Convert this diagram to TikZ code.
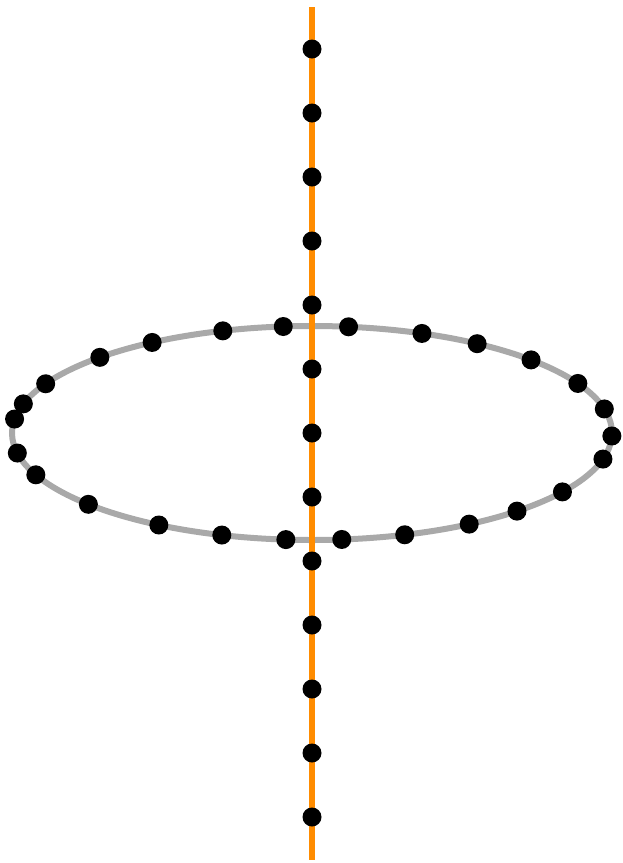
\documentclass[tikz,border=0pt]{standalone}
\usepackage{xcolor}
\usepackage{tikz}
\usetikzlibrary{positioning,calc}
\definecolor{axis}{HTML}{FF8C00}
\definecolor{ring}{HTML}{A9A9A9}
\tikzset{
  dot/.style={circle,fill=black,draw=none,inner sep=0pt,minimum size=9.5pt},
  ringline/.style={draw=ring,line width=3pt},
  axisline/.style={draw=axis,line width=3pt},
}
\begin{document}
\begin{tikzpicture}[x=0.5pt,y=-0.5pt]
  \useasboundingbox (0,0) rectangle (622,863);
  \coordinate (c) at (312,433);
  \coordinate (top) at (312,7);
  \coordinate (bot) at (312,860);
  \draw[ringline] (c) ellipse [x radius=150pt,y radius=53.5pt];
  \draw[axisline] (top)--(bot);
  % points on the axis
  \foreach \k in {0,...,12}
    \node[dot] (a\k) at (312,49+64*\k) {};
  % points on the ring
  \foreach \t [count=\k] in {95.5,83,107.3,68.5,122.2,56.6,135,43.1,152.6,27.6,
      164.2,13,172.5,-1.6,190.8,-14.1,203,-33.4,221.8,-46.9,239.3,-58.4,
      252.5,-72,265,275.7}
    \node[dot] (r\k) at ($(c)+(\t:150pt and 53.5pt)$) {};
\end{tikzpicture}
\end{document}
